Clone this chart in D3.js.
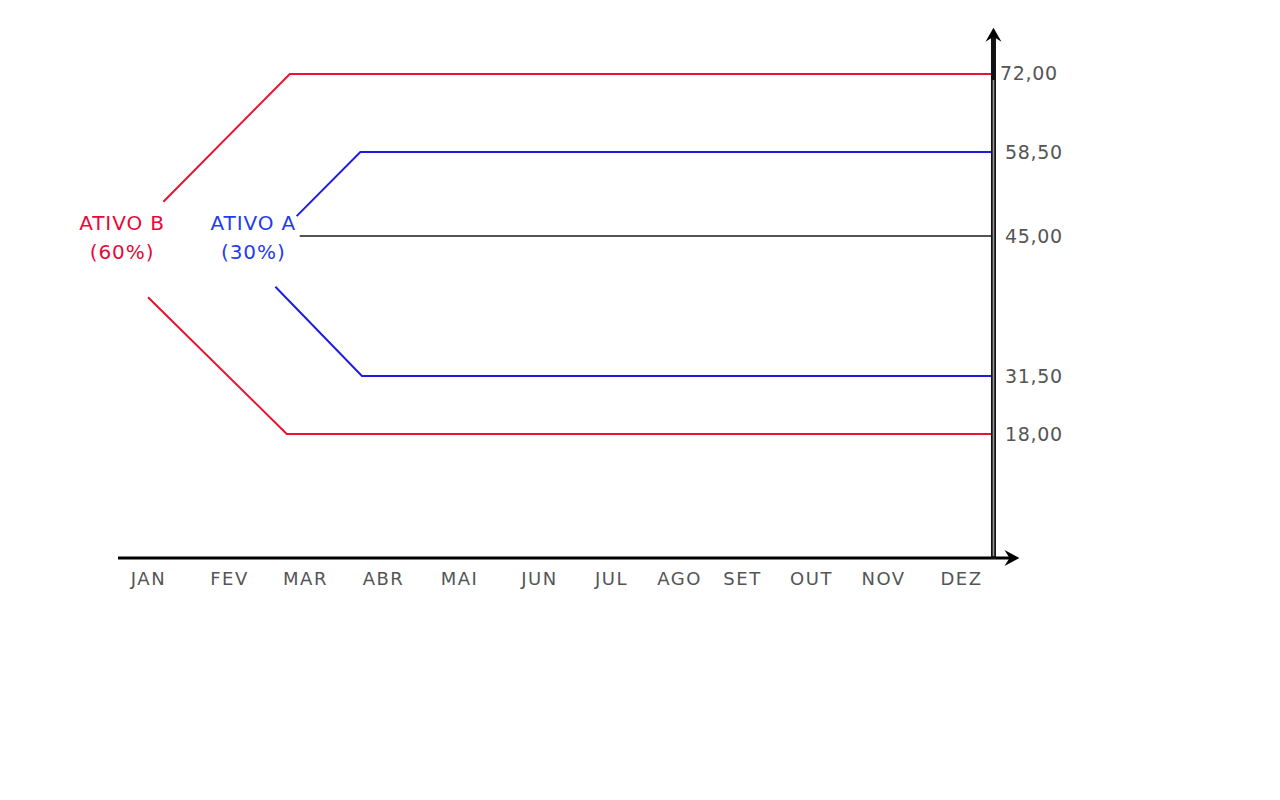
<!DOCTYPE html>
<html><head><meta charset="utf-8">
<script src="https://cdn.jsdelivr.net/npm/d3@7"></script>
<style>body{margin:0;background:#fff}svg{display:block}</style>
</head><body>
<svg id="c" width="1280" height="800"></svg>
<script>
// ---- data ----
const months = ["JAN","FEV","MAR","ABR","MAI","JUN","JUL","AGO","SET","OUT","NOV","DEZ"];
const levels = [72, 58.5, 45, 31.5, 18];
// series points: [month position (index, fractional), value]
const ativoBUpper = [[0.19, 50.5], [1.80, 72], [11.41, 72]];
const ativoBLower = [[0.0, 39.1], [1.76, 18], [11.41, 18]];
const ativoAUpper = [[1.89, 48.2], [2.71, 58.5], [11.41, 58.5]];
const ativoALower = [[1.61, 40.1], [2.73, 31.5], [11.41, 31.5]];
const baseLine = [[1.93, 45], [11.41, 45]];
const labelB = ["ATIVO B", "(60%)"];
const labelA = ["ATIVO A", "(30%)"];

// ---- scales ----
const x = d3.scaleLinear()
  .domain(d3.range(12))
  .range([148,229,305,383,459,539,611,679,742,811,883,961]);
const y = d3.scaleLinear()
  .domain([0, 18, 31.5, 45, 58.5, 72])
  .range([558, 434, 376, 236, 152, 74]);

const svg = d3.select("#c");
const FONT = "DejaVu Sans, Verdana, sans-serif";
const line = d3.line().x(d => x(d[0])).y(d => y(d[1]));

const RED = "#e8132f", BLUE = "#1c1ce6", GRAY = "#555";

svg.append("path").datum(baseLine).attr("d", line)
  .attr("fill","none").attr("stroke",GRAY).attr("stroke-width",2);
[[ativoBUpper,RED],[ativoBLower,RED],[ativoAUpper,BLUE],[ativoALower,BLUE]].forEach(([d,c]) => {
  svg.append("path").datum(d).attr("d", line)
    .attr("fill","none").attr("stroke",c).attr("stroke-width",2);
});

// ---- axes ----
const axX = x(11.41); // vertical axis position
const y0 = y(0), yTop = y(80);
const xLeft = x(-0.37), xRight = x(11.75);

// horizontal axis
svg.append("line").attr("x1",xLeft).attr("x2",xRight-8).attr("y1",y0).attr("y2",y0)
  .attr("stroke","#000").attr("stroke-width",3);
svg.append("path")
  .attr("d",`M${xRight},${y0} L${xRight-15},${y0-8} L${xRight-10},${y0} L${xRight-15},${y0+8} Z`)
  .attr("fill","#000");

// vertical axis (double line look)
svg.append("line").attr("x1",axX+0.5).attr("x2",axX+0.5).attr("y1",y0+1).attr("y2",yTop+8)
  .attr("stroke","#111").attr("stroke-width",5);
svg.append("line").attr("x1",axX+0.5).attr("x2",axX+0.5).attr("y1",y0-2).attr("y2",y(72)+6)
  .attr("stroke","#9a9a9a").attr("stroke-width",1.6);
svg.append("path")
  .attr("d",`M${axX+0.5},${yTop} L${axX-7.5},${yTop+14} L${axX+0.5},${yTop+9} L${axX+8.5},${yTop+14} Z`)
  .attr("fill","#000");

// y tick labels
const fmt = d3.formatLocale({decimal:",", thousands:".", grouping:[3], currency:["",""]}).format(".2f");
const yAxis = d3.axisRight(y).tickValues(levels).tickFormat(fmt).tickSize(0).tickPadding(12);
const gy = svg.append("g").attr("transform",`translate(${axX},0)`).call(yAxis);
gy.select(".domain").remove();
gy.selectAll("text").attr("font-family",FONT).attr("font-size",19).attr("fill","#555")
  .attr("letter-spacing","0.7px")
  .attr("dx", d => d === 72 ? -5 : 0)
  .attr("dy", d => d === 72 ? "0.28em" : "0.32em");

// x tick labels
const xAxis = d3.axisBottom(x).tickValues(d3.range(12)).tickFormat(i => months[i]).tickSize(0).tickPadding(14);
const gx = svg.append("g").attr("transform",`translate(0,${y0})`).call(xAxis);
gx.select(".domain").remove();
gx.selectAll("text").attr("font-family",FONT).attr("font-size",18).attr("fill","#555")
  .attr("letter-spacing","1.5px");

// series labels
function label(lines, cx, color) {
  const t = svg.append("text").attr("font-family",FONT).attr("font-size",20)
    .attr("fill",color).attr("text-anchor","middle").attr("letter-spacing","0.9px");
  lines.forEach((s,i) => t.append("tspan").attr("x",cx).attr("y", 230 + i*29).text(s));
}
label(labelB, x(-0.32), "#e8083a");
label(labelA, x(1.32), "#1f3cf0");
</script>
</body></html>
